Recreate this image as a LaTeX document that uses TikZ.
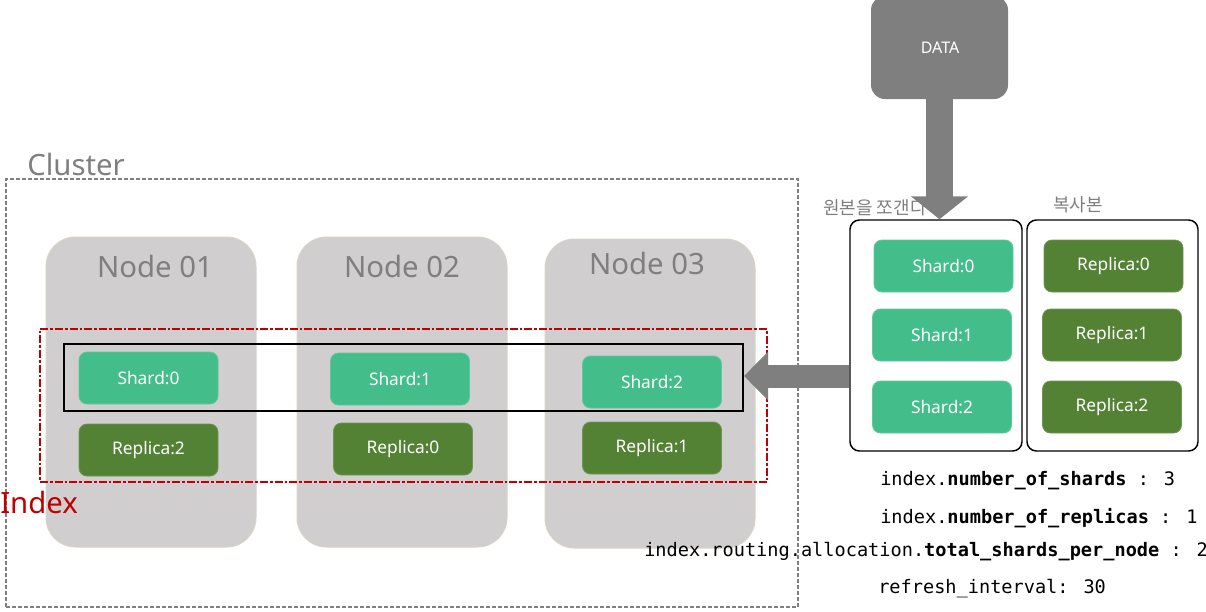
\documentclass[tikz,border=0pt]{standalone}
\usepackage{fontspec}
\setmainfont{Noto Sans}
\newfontfamily\kofont{Noto Sans CJK KR}
\newfontfamily\codefont{DejaVu Sans Mono}
\usetikzlibrary{arrows.meta}
\definecolor{shardgreen}{HTML}{43BE8B}
\definecolor{replgreen}{HTML}{548235}
\definecolor{nodegray}{HTML}{D0CECE}
\definecolor{nodeedge}{HTML}{D8D4C8}
\definecolor{textgray}{HTML}{7F7F7F}
\definecolor{arrowgray}{HTML}{7F7F7F}
\definecolor{idxred}{HTML}{C00000}
\tikzset{
  nodebox/.style={fill=nodegray, draw=nodeedge, line width=0.75pt, rounded corners=22pt,
    minimum width=157.5pt, minimum height=232.5pt, inner sep=0pt},
  nodelabel/.style={text=textgray, inner sep=0pt, font=\fontsize{22}{26}\selectfont},
  shardbox/.style={fill=shardgreen, draw=shardgreen!85!white, line width=0.6pt, rounded corners=6pt,
    minimum width=104.25pt, minimum height=39pt, inner sep=0pt, text=white,
    font=\fontsize{13}{15}\selectfont},
  replbox/.style={shardbox, fill=replgreen, draw=replgreen!85!white},
  groupbox/.style={draw=black, line width=1.1pt, rounded corners=7pt,
    minimum height=173.25pt, inner sep=0pt},
  kolabel/.style={text=textgray, inner sep=0pt, anchor=west, font=\kofont\fontsize{13.5}{16}\selectfont},
  codeline/.style={inner sep=0pt, anchor=west, font=\codefont\fontsize{13.95}{16}\selectfont},
  fatarrow/.style={draw=arrowgray, line width=#1},
}
\begin{document}
\begin{tikzpicture}[x=0.75pt, y=-0.75pt]
\useasboundingbox (0,0) rectangle (1206,611);

% cluster
\node[draw=textgray, dashed, dash pattern=on 3pt off 1.5pt, line width=1.1pt,
      minimum width=594pt, minimum height=321pt, inner sep=0pt] (cluster) at (402,393) {};
\node[text=textgray, inner sep=0pt, anchor=west, font=\fontsize{22}{26}\selectfont] (clusterlbl) at (27,164) {Cluster};

% ES nodes
\node[nodebox] (n1) at (151,392) {};
\node[nodebox] (n2) at (402,392) {};
\node[nodebox, minimum height=231.75pt] (n3) at (650,393.5) {};
\node[nodelabel] (n1l) at (155,266) {Node 01};
\node[nodelabel] (n2l) at (402,266) {Node 02};
\node[nodelabel] (n3l) at (647,263) {Node 03};

% index and shard rows
\node[draw=idxred, line width=1.5pt, dash pattern=on 6pt off 1.5pt on 2pt off 1.5pt,
      minimum width=545.25pt, minimum height=114.75pt, inner sep=0pt] (index) at (403.5,405.5) {};
\node[text=idxred, inner sep=0pt, anchor=west, font=\fontsize{22}{26}\selectfont] (indexlbl) at (0,502) {Index};
\node[draw=black, line width=1.5pt, minimum width=509.25pt, minimum height=50.25pt, inner sep=0pt] (row) at (403.5,377.5) {};

\node[shardbox] (s0) at (148.5,378) {Shard:0};
\node[replbox]  (r2) at (148.5,450) {Replica:2};
\node[shardbox] (s1) at (400,379) {Shard:1};
\node[replbox]  (r0) at (403,449) {Replica:0};
\node[shardbox] (s2) at (652,382) {Shard:2};
\node[replbox]  (r1) at (652,448) {Replica:1};

% right side groups
\node[kolabel] (origlbl) at (823,208) {원본을 쪼갠다};
\node[kolabel] (replbl) at (1053,205) {복사본};
\node[groupbox, minimum width=129pt] (orig) at (936,335.5) {};
\node[groupbox, minimum width=128.25pt] (rep) at (1112.5,335.5) {};
\node[shardbox] (os0) at (943.5,266) {Shard:0};
\node[shardbox] (os1) at (942,335) {Shard:1};
\node[shardbox] (os2) at (942,407) {Shard:2};
\node[replbox]  (or0) at (1113.5,266) {Replica:0};
\node[replbox]  (or1) at (1112,335) {Replica:1};
\node[replbox]  (or2) at (1112,407) {Replica:2};

% data
\node[fill=arrowgray, rounded corners=10.5pt, minimum width=102.75pt, minimum height=77.25pt,
      inner sep=0pt, text=white, font=\fontsize{12}{14}\selectfont] (data) at (939.5,47.5) {};
\node[text=white, inner sep=0pt, font=\fontsize{12}{14}\selectfont] (datalbl) at (940,48) {DATA};

% arrows
\draw[fatarrow=20.25pt, -{Triangle[length=17.25pt, width=42pt]}] (data.south) -- (data.south |- orig.north);
\draw[fatarrow=17.25pt, -{Triangle[length=18pt, width=35.25pt]}] (orig.west |- 0,376) coordinate (astart) -- (row.east |- astart);

% settings text
\node[codeline] (c1) at (880,481) {index.\textbf{number\_of\_shards} : 3};
\node[codeline] (c2) at (880,518) {index.\textbf{number\_of\_replicas} : 1};
\node[codeline] (c3) at (644,552) {index.routing.allocation.\textbf{total\_shards\_per\_node} : 2};
\node[codeline] (c4) at (878,589) {refresh\_interval: 30};
\end{tikzpicture}
\end{document}
